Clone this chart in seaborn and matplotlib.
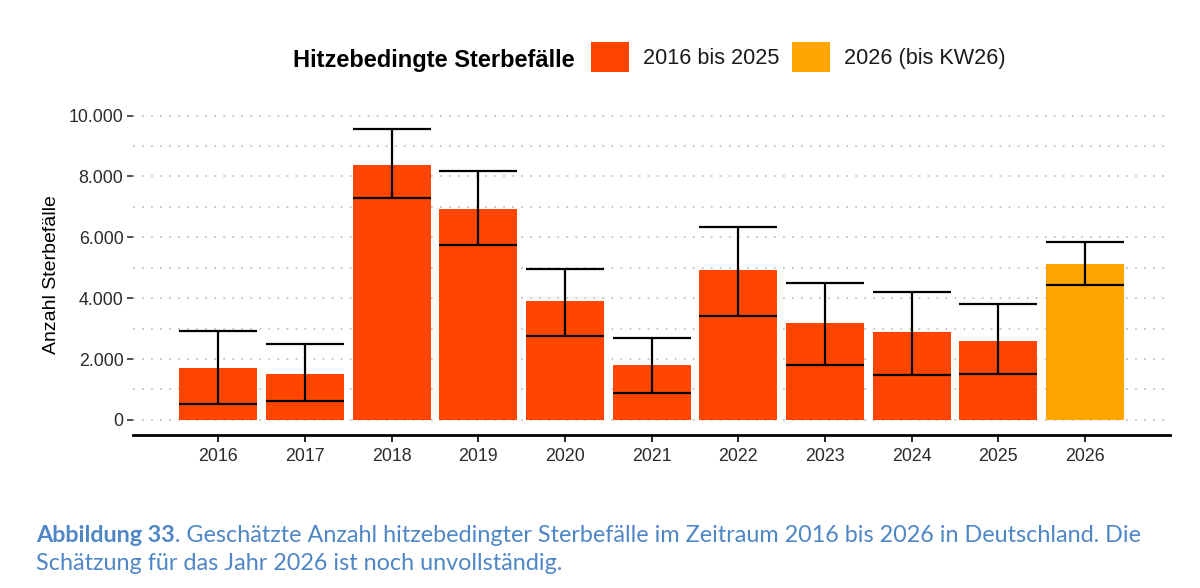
import numpy as np
import pandas as pd
import seaborn as sns
import matplotlib.pyplot as plt
from matplotlib.ticker import MultipleLocator, FuncFormatter
from matplotlib.patches import Patch

# Data
years = ["2016", "2017", "2018", "2019", "2020", "2021", "2022", "2023", "2024", "2025", "2026"]
deaths = [1700, 1510, 8370, 6940, 3920, 1800, 4910, 3180, 2900, 2600, 5120]
lower = [510, 620, 7280, 5740, 2760, 890, 3430, 1820, 1460, 1500, 4420]
upper = [2910, 2490, 9560, 8170, 4970, 2690, 6340, 4510, 4190, 3820, 5850]
period = ["2016 bis 2025"] * 10 + ["2026 (bis KW26)"]

colors = {"2016 bis 2025": "#FF4500", "2026 (bis KW26)": "#FFA500"}

df = pd.DataFrame({"Jahr": years, "Sterbefaelle": deaths, "Periode": period})

sns.set_style("white")
plt.rcParams['font.family'] = ['Liberation Sans', 'DejaVu Sans']

fig = plt.figure(figsize=(12, 5.88), dpi=100)
ax = fig.add_axes([0.111, 0.26, 0.864, 0.546])

sns.barplot(data=df, x="Jahr", y="Sterbefaelle", hue="Periode", palette=colors,
            dodge=False, width=0.9, legend=False, ax=ax, linewidth=0, saturation=1)

# error bars (lower / upper estimate)
pos = np.arange(len(years))
mid = (np.array(lower) + np.array(upper)) / 2
half = (np.array(upper) - np.array(lower)) / 2
ax.errorbar(pos, mid, yerr=half, fmt="none", ecolor="black", elinewidth=1.6,
            capsize=28, capthick=1.6, zorder=3)

ax.set_xlim(-0.98, 10.98)
ax.set_ylim(-500, 10050)
ax.yaxis.set_major_locator(MultipleLocator(2000))
ax.yaxis.set_minor_locator(MultipleLocator(1000))
ax.yaxis.set_major_formatter(FuncFormatter(lambda v, p: f"{int(v):,}".replace(",", ".")))
ax.grid(True, which="both", axis="y", color="#c4c4c4", linestyle=(0, (1, 4)), linewidth=1.3)
ax.set_axisbelow(True)

for s in ["left", "top", "right"]:
    ax.spines[s].set_visible(False)
ax.spines["bottom"].set_color("black")
ax.spines["bottom"].set_linewidth(2)

ax.tick_params(axis="y", which="major", left=True, length=4, width=1.2, color="#333333",
               labelsize=12.8, labelcolor="#2b2b2b", pad=3)
ax.tick_params(axis="y", which="minor", left=False)
ax.tick_params(axis="x", bottom=True, length=5, width=1.2, color="black",
               labelsize=12.8, labelcolor="#2b2b2b", pad=4)

ax.set_xlabel("")
ax.set_ylabel("Anzahl Sterbefälle", fontsize=14, color="black", labelpad=6)

# legend at the top
fig.text(293 / 1200, 1 - 60 / 588, "Hitzebedingte Sterbefälle", fontsize=17,
         fontweight="bold", va="center", ha="left", color="black")
handles = [Patch(facecolor=colors[k], edgecolor="none") for k in colors]
fig.legend(handles, list(colors.keys()), loc="center left",
           bbox_to_anchor=(591 / 1200, 1 - 57 / 588), ncol=2, frameon=False,
           fontsize=15.6, handlelength=1.75, handleheight=1.75, handletextpad=0.65,
           columnspacing=0.6, borderpad=0, borderaxespad=0, labelcolor="#1a1a1a")

# caption
cap_color = "#4F86C6"
cap_font = ["Lato", "DejaVu Sans"]
t1 = fig.text(36 / 1200, 1 - 536 / 588, "Abbildung 33", fontsize=16.8, fontweight="bold",
              color=cap_color, family=cap_font, va="center", ha="left")
ax.annotate(". Geschätzte Anzahl hitzebedingter Sterbefälle im Zeitraum 2016 bis 2026 in Deutschland. Die",
            xy=(1, 0), xycoords=t1, va="bottom", ha="left", fontsize=16.8,
            color=cap_color, family=cap_font, annotation_clip=False)
fig.text(36 / 1200, 1 - 564 / 588, "Schätzung für das Jahr 2026 ist noch unvollständig.",
         fontsize=16.8, color=cap_color, family=cap_font, va="center", ha="left")

fig.savefig("out.png", dpi=100)
